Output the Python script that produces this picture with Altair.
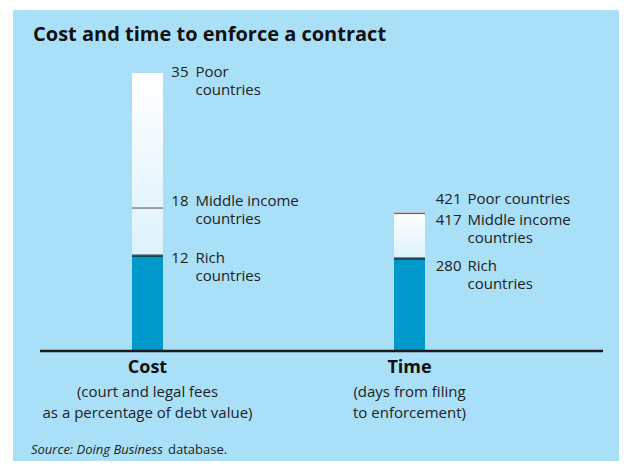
import altair as alt
import pandas as pd

# ---- data ----
categories = ["Cost", "Time"]
poor = [35, 421]
middle = [18, 417]
rich = [12, 280]
poor_labels = ["Poor\ncountries", "Poor countries"]
middle_labels = ["Middle income\ncountries", "Middle income\ncountries"]
rich_labels = ["Rich\ncountries", "Rich\ncountries"]
axis_titles = ["Cost", "Time"]
axis_subtitles = ["(court and legal fees\nas a percentage of debt value)",
                  "(days from filing\nto enforcement)"]
chart_title = "Cost and time to enforce a contract"
source_italic = "Source: Doing Business"
source_rest = "database."

# ---- style ----
FONT = "Open Sans"
BG = "#aadff8"
BLUE = "#0099cc"
DARK = "#1a1a1a"

xscale = alt.Scale(type="point", domain=categories, range=[134.5, 396.5], padding=0)
y_top_px = {"Cost": 63, "Time": 202}
BASE_PX = 341
num_dx = {"Cost": 41, "Time": 52}
lab_dx = {"Cost": 48, "Time": 58}
row_dy = {"Cost": {"poor": -1, "middle": -7, "rich": 2},
          "Time": {"poor": -13, "middle": 7, "rich": 7}}

grad = alt.LinearGradient(
    gradient="linear", x1=0, x2=0, y1=1, y2=0,
    stops=[alt.GradientStop(color="#dcf2fc", offset=0),
           alt.GradientStop(color="#ffffff", offset=1)])


def panel(i):
    cat = categories[i]
    df = pd.DataFrame({"cat": [cat], "poor": [poor[i]], "middle": [middle[i]],
                       "rich": [rich[i]], "zero": [0],
                       "poor_lab": [poor_labels[i]], "middle_lab": [middle_labels[i]],
                       "rich_lab": [rich_labels[i]],
                       "poor_num": [str(poor[i])], "middle_num": [str(middle[i])],
                       "rich_num": [str(rich[i])]})
    ysc = alt.Scale(domain=[0, poor[i]], range=[BASE_PX, y_top_px[cat]], nice=False, zero=True)
    base = alt.Chart(df).encode(x=alt.X("cat:N", scale=xscale, axis=None))
    layers = []
    layers.append(base.mark_bar(width=31, color=grad).encode(
        y=alt.Y("poor:Q", scale=ysc, axis=None), y2="rich:Q"))
    layers.append(base.mark_bar(width=31, color=BLUE).encode(
        y=alt.Y("rich:Q", scale=ysc, axis=None), y2="zero:Q"))
    mid_color = "#555555" if cat == "Cost" else "#222222"
    layers.append(base.mark_tick(size=31, thickness=1.5, color=mid_color).encode(
        y=alt.Y("middle:Q", scale=ysc, axis=None)))
    layers.append(base.mark_tick(size=31, thickness=2.5, color=DARK).encode(
        y=alt.Y("rich:Q", scale=ysc, axis=None)))
    for row in ["poor", "middle", "rich"]:
        dy = row_dy[cat][row] + 5
        layers.append(base.mark_text(align="right", baseline="alphabetic", dx=num_dx[cat], dy=dy,
                                     font=FONT, fontSize=15, color="#222222").encode(
            y=alt.Y(f"{row}:Q", scale=ysc, axis=None), text=f"{row}_num:N"))
        layers.append(base.mark_text(align="left", baseline="alphabetic", dx=lab_dx[cat], dy=dy,
                                     font=FONT, fontSize=15, color="#222222",
                                     lineBreak="\n", lineHeight=18).encode(
            y=alt.Y(f"{row}:Q", scale=ysc, axis=None), text=f"{row}_lab:N"))
    return alt.layer(*layers)


bars = alt.layer(panel(0), panel(1)).resolve_scale(y="independent")

cat_df = pd.DataFrame({"cat": categories, "title": axis_titles, "sub": axis_subtitles})
cbase = alt.Chart(cat_df).encode(x=alt.X("cat:N", scale=xscale, axis=None))
cat_titles = cbase.mark_text(font=FONT, fontSize=18, fontWeight="bold", color="#111111",
                             baseline="middle", align="center").encode(
    y=alt.value(358), text="title:N")
cat_subs = cbase.mark_text(font=FONT, fontSize=15, color="#222222", baseline="middle",
                           align="center", lineBreak="\n", lineHeight=21).encode(
    y=alt.value(382), text="sub:N")

axis_line = alt.Chart(pd.DataFrame({"a": [0]})).mark_rule(strokeWidth=2.5, color=DARK).encode(
    x=alt.value(27), x2=alt.value(590), y=alt.value(BASE_PX))

txt_df = pd.DataFrame({"t": [chart_title], "s1": [source_italic], "s2": [source_rest]})
tbase = alt.Chart(txt_df)
title_mark = tbase.mark_text(font=FONT, fontSize=20, fontWeight="bold", color="#111111",
                             align="left", baseline="middle").encode(
    x=alt.value(20), y=alt.value(25), text="t:N")
src1 = tbase.mark_text(font=FONT, fontSize=13, fontStyle="italic", color="#222222",
                       align="left", baseline="middle").encode(
    x=alt.value(18), y=alt.value(440), text="s1:N")
src2 = tbase.mark_text(font=FONT, fontSize=13, color="#222222",
                       align="left", baseline="middle").encode(
    x=alt.value(155), y=alt.value(440), text="s2:N")

chart = alt.layer(bars, cat_titles, cat_subs, axis_line, title_mark, src1, src2).resolve_scale(
    y="independent"
).properties(
    width=606, height=451, autosize="none",
    padding={"left": 5, "top": 2, "right": 0, "bottom": 0},
    background="white"
).configure_view(fill=BG, stroke=None)

chart.save("out.html", embed_options={"renderer": "svg", "actions": False})
